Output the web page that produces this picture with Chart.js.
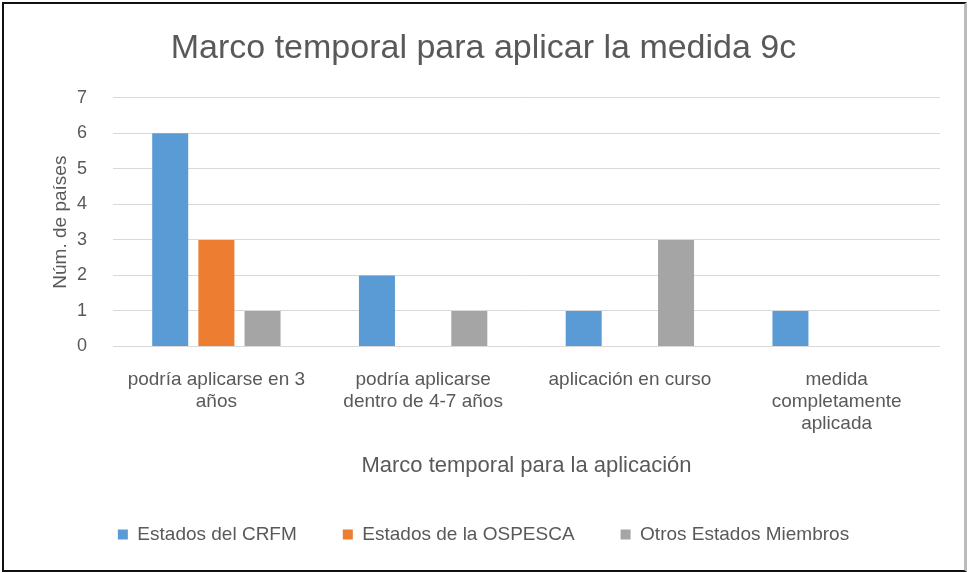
<!DOCTYPE html>
<html>
<head>
<meta charset="utf-8">
<script src="https://cdn.jsdelivr.net/npm/chart.js@4"></script>
<style>
  html, body { margin: 0; padding: 0; background: #fff; }
  #marco {
    position: absolute; left: 2px; top: 2px; width: 960px; height: 566px;
    border: 2px solid #111; border-right: 3px solid #bbb; background: #fff;
  }
  #grafico { display: block; }
</style>
</head>
<body>
<div id="marco"><canvas id="grafico" width="960" height="566"></canvas></div>
<script>
// Datos
const categorias = [
  ['podría aplicarse en 3', 'años'],
  ['podría aplicarse', 'dentro de 4-7 años'],
  ['aplicación en curso'],
  ['medida', 'completamente', 'aplicada']
];
const estadosCRFM = [6, 2, 1, 1];
const estadosOSPESCA = [3, 0, 0, 0];
const otrosEstados = [1, 1, 3, 0];
const ticksY = [0, 1, 2, 3, 4, 5, 6, 7];

const gris = '#595959';
const fuente = "'Liberation Sans', sans-serif";

const ctx = document.getElementById('grafico').getContext('2d');

new Chart(ctx, {
  type: 'bar',
  data: {
    labels: categorias,
    datasets: [
      { label: 'Estados del CRFM', data: estadosCRFM, backgroundColor: '#5b9bd5' },
      { label: 'Estados de la OSPESCA', data: estadosOSPESCA, backgroundColor: '#ed7d31' },
      { label: 'Otros Estados Miembros', data: otrosEstados, backgroundColor: '#a5a5a5' }
    ]
  },
  options: {
    responsive: false,
    animation: false,
    datasets: { bar: { categoryPercentage: 0.67, barPercentage: 0.78 } },
    layout: { padding: { left: 23, right: 24, top: 10, bottom: 16 } },
    plugins: {
      title: {
        display: true,
        text: 'Marco temporal para aplicar la medida 9c',
        color: gris,
        font: { family: fuente, size: 34, weight: 'normal' },
        padding: { top: 14, bottom: 29 }
      },
      legend: {
        position: 'bottom',
        labels: {
          color: gris,
          font: { family: fuente, size: 19 },
          boxWidth: 10,
          boxHeight: 10,
          padding: 46
        }
      },
      tooltip: { enabled: false }
    },
    scales: {
      x: {
        grid: { display: false },
        border: { display: false },
        ticks: {
          color: gris,
          font: { family: fuente, size: 19, lineHeight: 1.16 },
          maxRotation: 0,
          padding: 14
        },
        title: {
          display: true,
          text: 'Marco temporal para la aplicación',
          color: gris,
          font: { family: fuente, size: 22 },
          padding: { top: 4, bottom: 0 }
        }
      },
      y: {
        min: 0,
        max: 7,
        afterBuildTicks: eje => { eje.ticks = ticksY.map(v => ({ value: v })); },
        afterFit: eje => { eje.width = 86; },
        grid: { color: '#d9d9d9', drawTicks: false },
        border: { display: false },
        ticks: { color: gris, font: { family: fuente, size: 18 }, padding: 26 },
        title: {
          display: true,
          text: 'Núm. de países',
          color: gris,
          font: { family: fuente, size: 19 },
          padding: { top: 22, bottom: 0 }
        }
      }
    }
  }
});
</script>
</body>
</html>
